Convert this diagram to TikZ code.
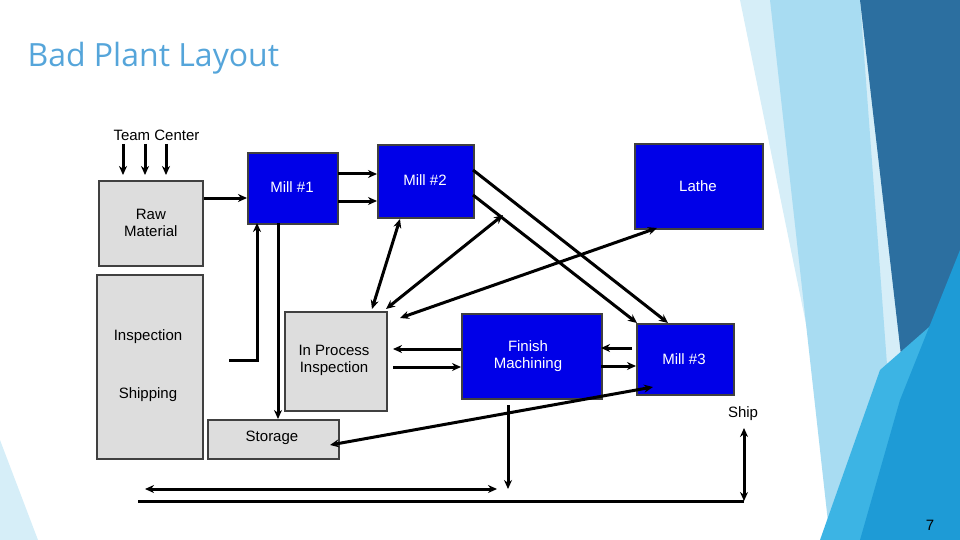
\documentclass[tikz,border=0pt]{standalone}
\usepackage{fontspec}
\setmainfont{Liberation Sans}
\newfontfamily\titlefont{Open Sans}
\usetikzlibrary{arrows.meta}
\definecolor{gbox}{HTML}{DDDDDD}
\definecolor{bbox}{HTML}{0000E8}
\definecolor{ttl}{HTML}{55A5DA}
\definecolor{bgA}{HTML}{D6EEF8}
\definecolor{bgB}{HTML}{A8DCF2}
\definecolor{bgC}{HTML}{2C6FA0}
\definecolor{bgD}{HTML}{1E9BD6}
\definecolor{bgE}{HTML}{3CB4E4}
\begin{document}
\begin{tikzpicture}[x=1pt,y=-1pt,
  every node/.style={font=\fontsize{15}{17}\selectfont},
  gray box/.style={draw=black!75,line width=1.8pt,fill=gbox,anchor=north west,inner sep=0},
  blue box/.style={draw=black!75,line width=1.8pt,fill=bbox,text=white,anchor=north west,inner sep=0},
  flow/.style={line width=3pt,-{Stealth[length=9pt,width=8pt]}},
  flow2/.style={line width=3pt,{Stealth[length=9pt,width=8pt]}-{Stealth[length=9pt,width=8pt]}},
  line/.style={line width=3pt}]
\useasboundingbox (0,0) rectangle (960,540);
% background decoration
\fill[bgA] (740,0) -- (960,0) -- (960,540) -- (850,540) -- cycle;
\fill[bgB] (770,0) -- (860,0) -- (900,540) -- (830,540) -- cycle;
\fill[bgC] (860,0) -- (960,0) -- (960,300) -- (905,390) -- cycle;
\fill[bgE] (820,540) -- (880,370) -- (960,300) -- (960,540) -- cycle;
\fill[bgD] (960,250) -- (960,540) -- (860,540) -- (900,400) -- cycle;
\fill[bgA] (0,440) -- (38,540) -- (0,540) -- cycle;
\node[anchor=west,text=ttl,font=\titlefont\fontsize{32}{36}\selectfont] (title) at (24,58) {Bad Plant Layout};
\node[anchor=west] (team) at (110,135) {Team Center};
% boxes
\node[gray box,minimum width=104pt,minimum height=85pt] (raw) at (98,180) {};
\node[align=center] at (raw.center) {Raw\\Material};
\node[gray box,minimum width=106pt,minimum height=184pt] (insp) at (96,274) {};
\node (ilab) at (148,337) {Inspection};
\node (slab) at (148,395) {Shipping};
\node[blue box,minimum width=90pt,minimum height=71pt] (m1) at (247,152) {};
\node[text=white] at (292,187) {Mill \#1};
\node[blue box,minimum width=96pt,minimum height=73pt] (m2) at (377,144) {};
\node[text=white] at (425,180) {Mill \#2};
\node[blue box,minimum width=128pt,minimum height=85pt] (lathe) at (634,143) {};
\node[text=white] at (698,186) {Lathe};
\node[gray box,minimum width=102pt,minimum height=99pt] (ipi) at (284,311) {};
\node[align=center] at (334,360) {In Process\\Inspection};
\node[gray box,minimum width=131pt,minimum height=39pt] (stor) at (207,419) {};
\node at (272,438) {Storage};
\node[blue box,minimum width=140pt,minimum height=85pt] (fin) at (461,313) {};
\node[align=center,text=white] at (528,356) {Finish\\Machining};
\node[blue box,minimum width=97pt,minimum height=71pt] (m3) at (636,323) {};
\node[text=white] at (684,359) {Mill \#3};
\node (ship) at (743,414) {Ship};
% coordinates
\coordinate (t1) at (123,144); \coordinate (t2) at (145,144); \coordinate (t3) at (166,144);
\coordinate (ishook) at (229,360); \coordinate (bend) at (257,360);
\coordinate (bl) at (145,489); \coordinate (br) at (497,489);
\coordinate (ll) at (138,501); \coordinate (lr) at (744,501);
\coordinate (fd) at (508,489);
% arrows
\foreach \t in {t1,t2,t3} \draw[flow] (\t) -- ++(0,31);
\draw[flow] (204,198) -- (247,198);
\draw[flow] (338,174) -- (377,174);
\draw[flow] (338,201) -- (377,201);
\draw[flow] (ishook) -- (bend) -- (257,223);
\draw[flow] (278,223) -- (278,419);
\draw[flow2] (400,219) -- (372,309);
\draw[flow2] (386,309) -- (503,215);
\draw[flow2] (657,228) -- (400,318);
\draw[flow] (473,170) -- (668,323);
\draw[flow] (473,195) -- (637,323);
\draw[flow] (461,349) -- (393,349);
\draw[flow] (393,367) -- (461,367);
\draw[flow] (632,348) -- (601,348);
\draw[flow] (601,366) -- (636,366);
\draw[flow2] (330,445) -- (653,387);
\draw[flow] (508,405) -- (fd);
\draw[flow2] (bl) -- (br);
\draw[line] (ll) -- (lr);
\draw[flow2] (lr) -- (744,428);
\node (pg) at (930,525) {7};
\end{tikzpicture}
\end{document}
